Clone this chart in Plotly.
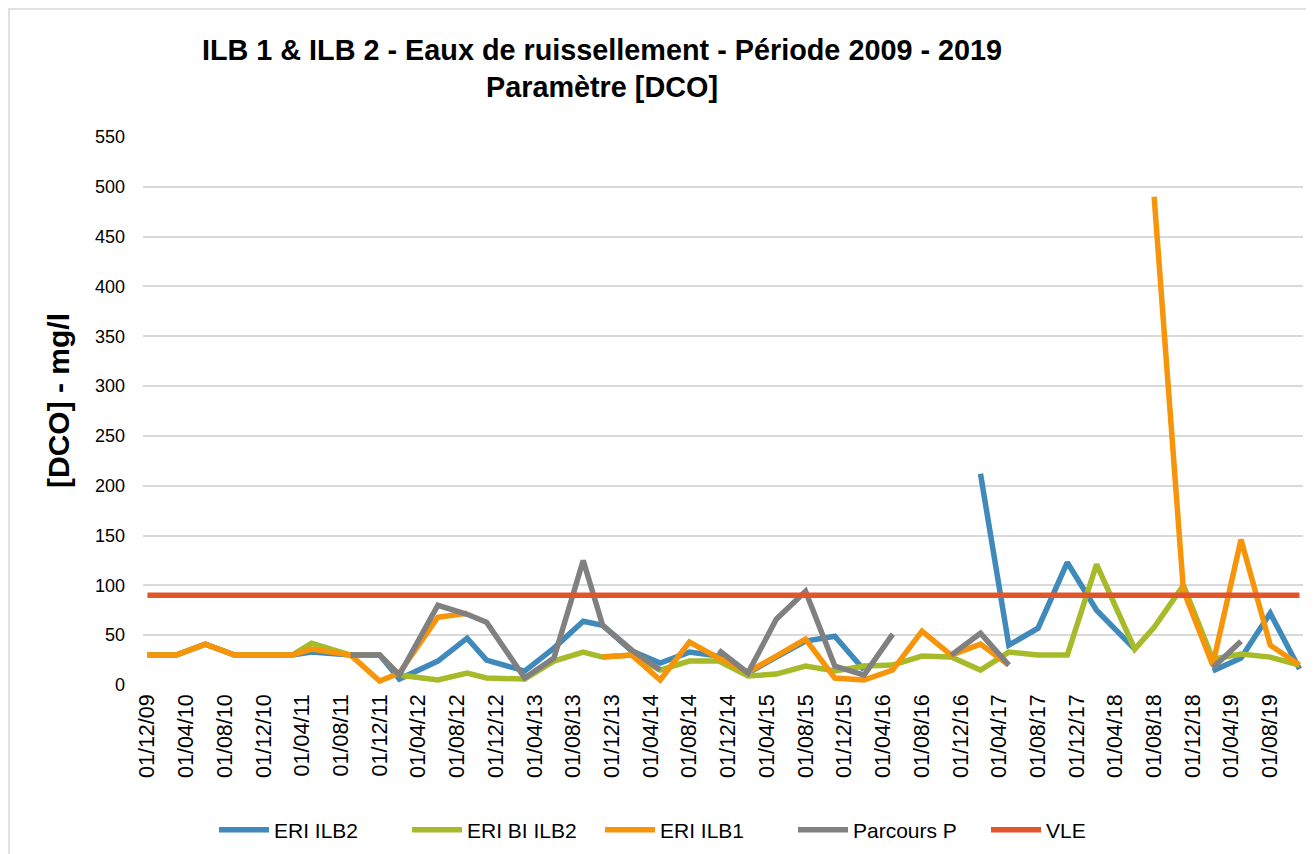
import plotly.graph_objects as go

# Sampling dates (first of month)
dates = [
    "2009-12-01", "2010-03-01", "2010-06-01", "2010-09-01", "2010-12-01",
    "2011-03-01", "2011-05-01", "2011-09-01", "2011-12-01", "2012-02-01",
    "2012-06-01", "2012-09-01", "2012-11-01", "2013-03-01", "2013-06-01",
    "2013-09-01", "2013-11-01", "2014-02-01", "2014-05-01", "2014-08-01",
    "2014-11-01", "2015-02-01", "2015-05-01", "2015-08-01", "2015-11-01",
    "2016-02-01", "2016-05-01", "2016-08-01", "2016-11-01", "2017-02-01",
    "2017-05-01", "2017-08-01", "2017-11-01", "2018-02-01", "2018-06-01",
    "2018-08-01", "2018-11-01", "2019-02-01", "2019-05-01", "2019-08-01",
    "2019-11-01",
]

eri_ilb2 = [30, 30, 41, 30, 30, 30, 33, 30, 30, 6,
            24, 47, 25, 14, 37, 64, 60, 34, 22, 33,
            29, 12, 28, 44, 49, 15, None, None, None, 212,
            40, 57, 123, 75, 36, None, None, 14, 27, 72,
            16]

eri_bi_ilb2 = [30, 30, 41, 30, 30, 30, 42, 30, 30, 10,
               5, 12, 7, 6, 24, 33, 28, 30, 15, 24,
               24, 9, 11, 19, 14, 19, 20, 29, 28, 15,
               33, 30, 30, 121, 36, 58, 100, 26, 31, 28,
               20]

eri_ilb1 = [30, 30, 41, 30, 30, 30, 36, 30, 4, 12,
            68, 72, None, None, None, None, 28, 30, 5, 43,
            27, 13, 29, 46, 7, 5, 15, 54, 30, 41,
            20, None, None, None, None, 490, 95, 20, 146, 40,
            20]

parcours_p = [None, None, None, None, None, None, None, 30, 30, 10,
              80, 71, 63, 7, 27, 125, 60, 35, 15, None,
              35, 12, 66, 94, 19, 10, 51, None, 30, 52,
              20, None, None, None, None, None, None, 17, 44, None,
              None]

vle = [90] * len(dates)

tick_vals = ["2009-12-01", "2010-04-01", "2010-08-01", "2010-12-01", "2011-04-01",
             "2011-08-01", "2011-12-01", "2012-04-01", "2012-08-01", "2012-12-01",
             "2013-04-01", "2013-08-01", "2013-12-01", "2014-04-01", "2014-08-01",
             "2014-12-01", "2015-04-01", "2015-08-01", "2015-12-01", "2016-04-01",
             "2016-08-01", "2016-12-01", "2017-04-01", "2017-08-01", "2017-12-01",
             "2018-04-01", "2018-08-01", "2018-12-01", "2019-04-01", "2019-08-01"]
tick_text = ["01/12/09", "01/04/10", "01/08/10", "01/12/10", "01/04/11",
             "01/08/11", "01/12/11", "01/04/12", "01/08/12", "01/12/12",
             "01/04/13", "01/08/13", "01/12/13", "01/04/14", "01/08/14",
             "01/12/14", "01/04/15", "01/08/15", "01/12/15", "01/04/16",
             "01/08/16", "01/12/16", "01/04/17", "01/08/17", "01/12/17",
             "01/04/18", "01/08/18", "01/12/18", "01/04/19", "01/08/19"]

series = [
    ("ERI ILB2", eri_ilb2, "#3F8ABA"),
    ("ERI BI ILB2", eri_bi_ilb2, "#A6BA2A"),
    ("ERI ILB1", eri_ilb1, "#F7950A"),
    ("Parcours P", parcours_p, "#808080"),
    ("VLE", vle, "#E2552B"),
]

FONT = "Arial, 'Liberation Sans', sans-serif"

fig = go.Figure()
for name, vals, col in series:
    fig.add_trace(go.Scatter(
        x=dates, y=vals, name=name, mode="lines",
        line=dict(color=col, width=5.5),
        connectgaps=False,
    ))

L, R, T, B = 135, 19, 129, 177
W, H = 1314, 854
pw, ph = W - L - R, H - T - B

def px_x(x):
    return (x - L) / pw

def px_y(y):
    return (H - B - y) / ph

fig.update_layout(
    width=W, height=H,
    margin=dict(l=L, r=R, t=T, b=B),
    paper_bgcolor="white", plot_bgcolor="white",
    font=dict(family=FONT, size=20, color="#000000"),
    title=dict(
        text="<b>ILB 1 & ILB 2 - Eaux de ruissellement - Période 2009 - 2019<br>Paramètre [DCO]</b>",
        x=594 / W, xanchor="center", xref="container",
        y=1 - 52 / H, yanchor="top", yref="container",
        font=dict(family=FONT, size=28.8, color="#000000"),
    ),
    xaxis=dict(
        type="date",
        range=["2009-11-17", "2019-11-12"],
        tickmode="array", tickvals=tick_vals, ticktext=tick_text,
        tickangle=-90, showgrid=False, zeroline=False,
        showline=False, ticks="", ticklabelstandoff=4,
        tickfont=dict(family=FONT, size=21.5, color="#000000"),
    ),
    yaxis=dict(
        range=[0, 550], dtick=50, tick0=0,
        showgrid=True, gridcolor="#D9D9D9", gridwidth=2,
        zeroline=False, showline=False, ticks="",
        tickfont=dict(family=FONT, size=18, color="#000000"),
        ticklabelstandoff=17,
    ),
    legend=dict(
        orientation="h", x=px_x(206), xanchor="left",
        y=px_y(822), yanchor="middle",
        font=dict(family=FONT, size=21, color="#000000"),
        itemwidth=50, traceorder="normal",
        entrywidth=128, entrywidthmode="pixels",
    ),
    showlegend=True,
    annotations=[dict(
        text="<b>[DCO] - mg/l</b>", textangle=-90,
        xref="paper", yref="paper", x=px_x(50), y=px_y(393),
        xanchor="center", yanchor="middle", showarrow=False,
        font=dict(family=FONT, size=30, color="#000000"),
    )],
    shapes=[dict(
        type="rect", xref="paper", yref="paper",
        x0=px_x(1), x1=px_x(1312), y0=px_y(852), y1=px_y(1),
        line=dict(color="#D9D9D9", width=1.5), fillcolor="rgba(0,0,0,0)",
        layer="below",
    )],
)

fig.write_html("out.html")
